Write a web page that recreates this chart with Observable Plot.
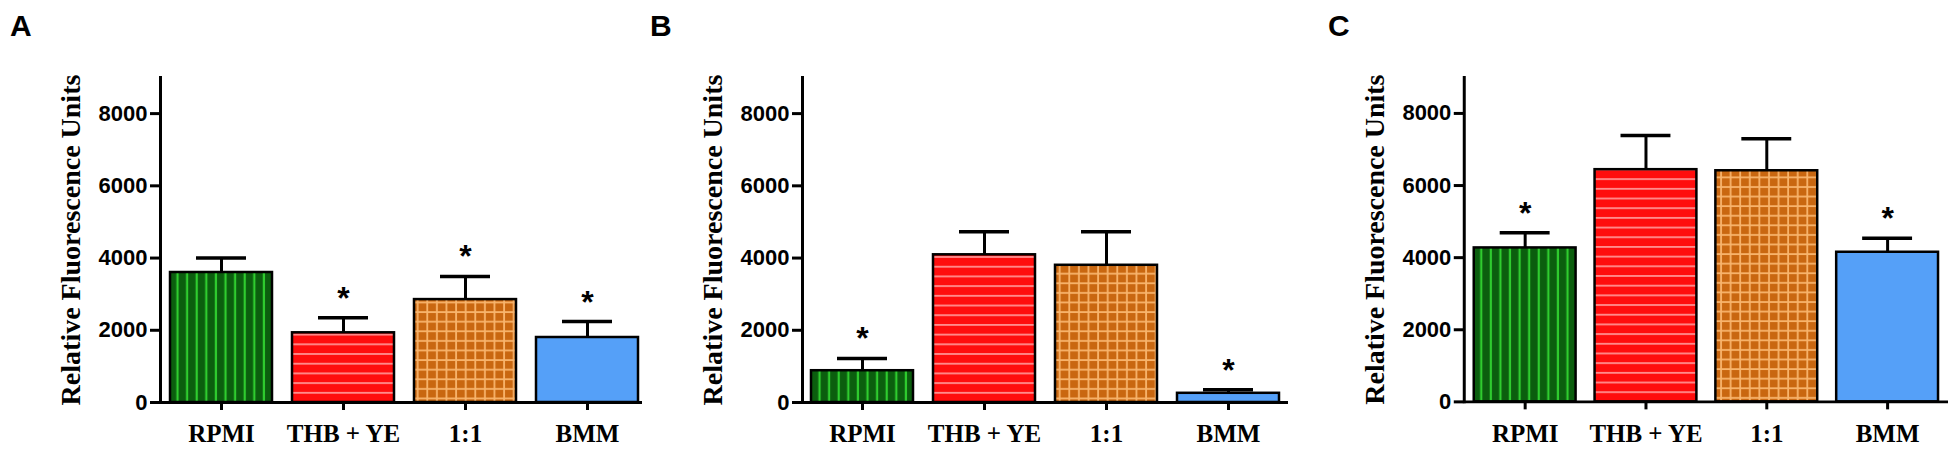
<!DOCTYPE html>
<html><head><meta charset="utf-8">
<script src="https://cdn.jsdelivr.net/npm/d3@7"></script>
<script src="https://cdn.jsdelivr.net/npm/@observablehq/plot@0.6"></script>
<style>
body{margin:0;background:#fff;}
#wrap{position:relative;width:1960px;height:452px;overflow:hidden;background:#fff;}
.panel{position:absolute;top:0;}
.letter{position:absolute;top:11px;font:bold 30px "Liberation Sans",Arial,sans-serif;line-height:1;color:#000;}
g[aria-label="y-axis tick label"] text{font:bold 22px "Liberation Sans",Arial,sans-serif;}
g[aria-label="y-axis label"] text{font:bold 28px "Liberation Serif","Times New Roman",serif;}
g[aria-label="x-axis tick label"] text{font:bold 25px "Liberation Serif","Times New Roman",serif;}
</style>
</head><body>
<svg width="0" height="0" style="position:absolute">
  <defs>
    <pattern id="pat-green" patternUnits="userSpaceOnUse" width="9.6" height="10">
      <rect width="9.6" height="10" fill="#0b5e0e"/>
      <rect x="3.6" width="2.2" height="10" fill="#2fcc2f"/>
    </pattern>
    <pattern id="pat-red" patternUnits="userSpaceOnUse" width="10" height="9.7">
      <rect width="10" height="9.7" fill="#ff0d0d"/>
      <rect y="4" width="10" height="1.6" fill="#ff9f9f"/>
    </pattern>
    <pattern id="pat-orange" patternUnits="userSpaceOnUse" width="9.6" height="9.6">
      <rect width="9.6" height="9.6" fill="#c96710"/>
      <rect x="4" width="1.8" height="9.6" fill="#f8b46c"/>
      <rect y="4" width="9.6" height="1.8" fill="#f8b46c"/>
    </pattern>
  </defs>
</svg>
<div id="wrap"></div>
<script>
const categories = ["RPMI", "THB + YE", "1:1", "BMM"];

const meanA = [3600, 1930, 2850, 1800];
const semA  = [400, 420, 640, 440];
const sigA  = [false, true, true, true];

const meanB = [880, 4090, 3800, 255];
const semB  = [340, 640, 930, 100];
const sigB  = [true, false, false, true];

const meanC = [4270, 6440, 6410, 4150];
const semC  = [420, 950, 890, 390];
const sigC  = [true, false, false, true];

const yTicks = [0, 2000, 4000, 6000, 8000];
const yLabel = "Relative Fluorescence Units";
const panelLetters = ["A", "B", "C"];

const fills = {"RPMI": "url(#pat-green)", "THB + YE": "url(#pat-red)", "1:1": "url(#pat-orange)", "BMM": "#55a0f8"};

function panel(means, sems, sigs, width) {
  const data = categories.map((c, i) => ({cat: c, mean: means[i], upper: means[i] + sems[i], sig: sigs[i]}));
  return Plot.plot({
    width, height: 452,
    marginTop: 77, marginBottom: 50, marginLeft: 160, marginRight: 12,
    style: {background: "white", color: "black", overflow: "visible"},
    x: {domain: categories, paddingInner: 0.16, paddingOuter: 0.07, label: null},
    y: {domain: [0, 9000], label: null},
    color: {type: "identity"},
    marks: [
      Plot.ruleX(data, {x: "cat", y1: "mean", y2: "upper", stroke: "black", strokeWidth: 3}),
      Plot.tickY(data, {x: "cat", y: "upper", stroke: "black", strokeWidth: 3.5, inset: 26}),
      Plot.barY(data, {x: "cat", y: "mean", fill: d => fills[d.cat], stroke: "black", strokeWidth: 2.5}),
      Plot.text(data.filter(d => d.sig), {x: "cat", y: "upper", text: () => "*", dy: -9, lineAnchor: "bottom", fontSize: 32, fontWeight: "bold", fontFamily: "Liberation Sans, Arial, sans-serif"}),
      Plot.ruleY([0], {stroke: "black", strokeWidth: 3}),
      Plot.frame({anchor: "left", stroke: "black", strokeWidth: 3}),
      Plot.axisY({ticks: yTicks, tickFormat: d3.format("d"), tickSize: 10, tickPadding: 3, strokeWidth: 3, label: yLabel, labelAnchor: "center", labelArrow: "none", labelOffset: 100}),
      Plot.axisX({tickSize: 8, tickPadding: 14, strokeWidth: 3, label: null})
    ]
  });
}

const wrap = document.getElementById("wrap");
const layout = [
  {left: 0, width: 660, letterLeft: 10, means: meanA, sems: semA, sigs: sigA},
  {left: 642, width: 658, letterLeft: 650, means: meanB, sems: semB, sigs: sigB},
  {left: 1304, width: 657, letterLeft: 1328, means: meanC, sems: semC, sigs: sigC}
];
layout.forEach((p, i) => {
  const div = document.createElement("div");
  div.className = "panel";
  div.style.left = p.left + "px";
  div.appendChild(panel(p.means, p.sems, p.sigs, p.width));
  wrap.appendChild(div);
  const lt = document.createElement("div");
  lt.className = "letter";
  lt.style.left = p.letterLeft + "px";
  lt.textContent = panelLetters[i];
  wrap.appendChild(lt);
});
</script>
</body></html>
